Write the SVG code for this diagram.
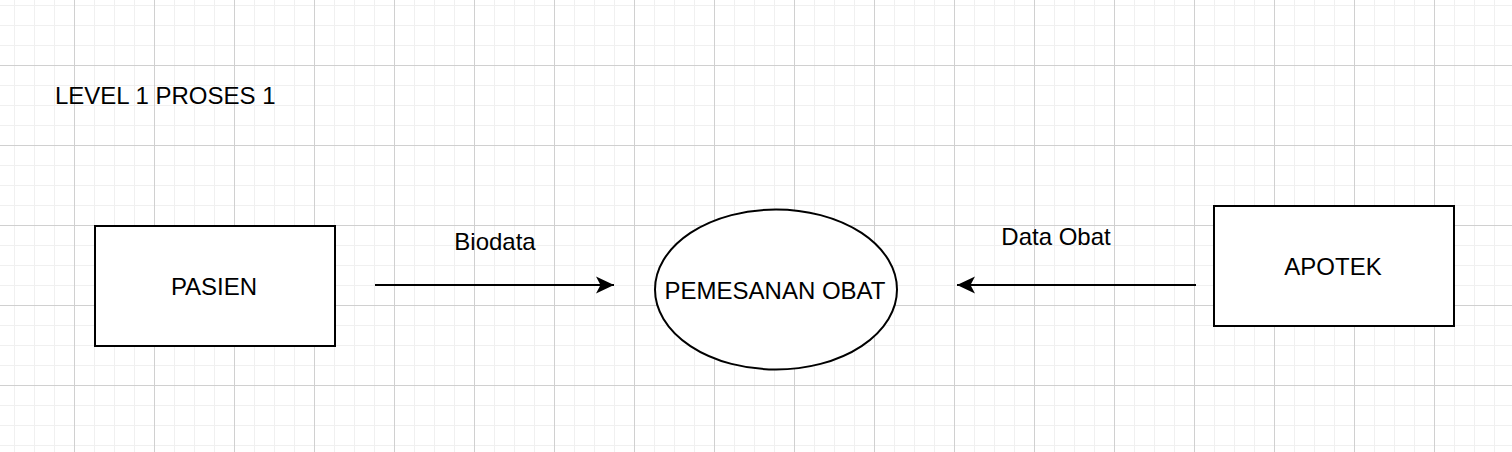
<svg xmlns="http://www.w3.org/2000/svg" width="1512" height="452" viewBox="0 0 1512 452">
  <defs>
    <pattern id="grid" patternUnits="userSpaceOnUse" x="-6" y="-15" width="80" height="80">
      <path d="M20.5 0V80M40.5 0V80M60.5 0V80M0 20.5H80M0 40.5H80M0 60.5H80" stroke="#f0f0f0" stroke-width="1" fill="none"/>
      <path d="M0.5 0V80M0 0.5H80" stroke="#d0d0d0" stroke-width="1" fill="none"/>
    </pattern>
    <marker id="arrow" viewBox="0 0 18 18" refX="18" refY="9" markerWidth="18" markerHeight="18" markerUnits="userSpaceOnUse" orient="auto">
      <path d="M0 0.5L18 9L0 17.5L4.5 9Z" fill="#000"/>
    </marker>
  </defs>
  <style>
    text { font-family: "Liberation Sans", Arial, sans-serif; font-size: 24px; fill: #000; }
    .shape { fill: #fff; stroke: #000; stroke-width: 2; }
    .edge { stroke: #000; stroke-width: 2; fill: none; }
  </style>
  <rect width="1512" height="452" fill="#fff"/>
  <rect width="1512" height="452" fill="url(#grid)"/>

  <g id="title">
    <text x="55" y="103.5">LEVEL 1 PROSES 1</text>
  </g>

  <g id="pasien">
    <rect class="shape" x="95" y="226" width="240" height="120"/>
    <text x="214" y="294.5" text-anchor="middle">PASIEN</text>
  </g>

  <g id="pemesanan-obat">
    <ellipse class="shape" cx="776" cy="289.5" rx="121" ry="80"/>
    <text x="775" y="298.5" text-anchor="middle">PEMESANAN OBAT</text>
  </g>

  <g id="apotek">
    <rect class="shape" x="1214" y="206" width="240" height="120"/>
    <text x="1333" y="274.5" text-anchor="middle">APOTEK</text>
  </g>

  <g id="connectors">
    <line class="edge" x1="375" y1="285" x2="614" y2="285" marker-end="url(#arrow)"/>
    <text x="495" y="249.5" text-anchor="middle">Biodata</text>
    <line class="edge" x1="1196" y1="285" x2="957" y2="285" marker-end="url(#arrow)"/>
    <text x="1056" y="244.5" text-anchor="middle">Data Obat</text>
  </g>
</svg>
